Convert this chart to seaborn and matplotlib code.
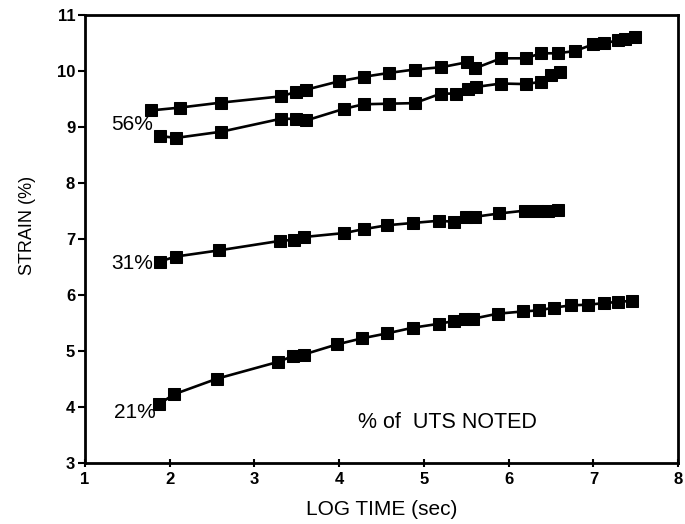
import matplotlib
matplotlib.use("Agg")
import matplotlib.pyplot as plt
import seaborn as sns
import pandas as pd

sns.set_theme(style="ticks")
plt.rcParams["font.family"] = ["Liberation Sans", "DejaVu Sans"]

# Creep strain vs log time at several stress levels (% of UTS)
t_56a = [1.78, 2.12, 2.61, 3.31, 3.49, 3.61, 4.00, 4.29, 4.59, 4.89, 5.20, 5.51, 5.60,
         5.91, 6.20, 6.38, 6.58, 6.78, 7.00, 7.13, 7.29, 7.37, 7.49]
s_56a = [9.30, 9.35, 9.44, 9.55, 9.63, 9.67, 9.82, 9.90, 9.97, 10.03, 10.07, 10.16, 10.05,
         10.23, 10.23, 10.32, 10.32, 10.36, 10.48, 10.50, 10.55, 10.58, 10.61]

t_56b = [1.89, 2.08, 2.61, 3.31, 3.49, 3.61, 4.06, 4.29, 4.59, 4.89, 5.20, 5.38, 5.52,
         5.62, 5.91, 6.20, 6.38, 6.50, 6.60]
s_56b = [8.84, 8.81, 8.92, 9.15, 9.15, 9.12, 9.33, 9.41, 9.42, 9.43, 9.60, 9.60, 9.69,
         9.72, 9.78, 9.77, 9.81, 9.93, 9.99]

t_31 = [1.88, 2.07, 2.58, 3.30, 3.47, 3.59, 4.06, 4.29, 4.57, 4.87, 5.18, 5.36, 5.50,
        5.60, 5.89, 6.19, 6.34, 6.46, 6.58]
s_31 = [6.60, 6.69, 6.80, 6.97, 6.99, 7.04, 7.11, 7.18, 7.25, 7.29, 7.33, 7.31, 7.39,
        7.40, 7.46, 7.51, 7.51, 7.51, 7.52]

t_21 = [1.87, 2.05, 2.56, 3.28, 3.45, 3.58, 3.97, 4.27, 4.57, 4.87, 5.18, 5.36, 5.48,
        5.58, 5.87, 6.17, 6.36, 6.54, 6.74, 6.94, 7.13, 7.29, 7.45]
s_21 = [4.05, 4.23, 4.51, 4.81, 4.91, 4.94, 5.12, 5.23, 5.32, 5.42, 5.49, 5.54, 5.57,
        5.58, 5.67, 5.71, 5.73, 5.78, 5.82, 5.83, 5.86, 5.88, 5.90]

series = [(t_56a, s_56a), (t_56b, s_56b), (t_31, s_31), (t_21, s_21)]

fig = plt.figure(figsize=(6.85, 5.24), dpi=100)
ax = fig.add_axes([0.124, 0.116, 0.866, 0.855])

for t, s in series:
    df = pd.DataFrame({"t": t, "s": s})
    sns.lineplot(data=df, x="t", y="s", sort=False, color="black", linewidth=1.9,
                 marker="s", markersize=8, markeredgecolor="black", ax=ax)

ax.set_xlim(1, 8)
ax.set_ylim(3, 11)
ax.set_xticks(range(1, 9))
ax.set_yticks(range(3, 12))

for side in ["left", "right", "top", "bottom"]:
    ax.spines[side].set_visible(True)
    ax.spines[side].set_color("black")
    ax.spines[side].set_linewidth(2)

ax.tick_params(axis="x", direction="inout", length=6, width=1.5, labelsize=12, pad=3, colors="black")
ax.tick_params(axis="y", direction="out", length=5, width=1.5, labelsize=12, pad=2, colors="black")
for lab in ax.get_xticklabels() + ax.get_yticklabels():
    lab.set_fontweight("bold")

ax.set_xlabel("LOG TIME (sec)", fontsize=15, color="black")
ax.set_ylabel("STRAIN (%)", fontsize=13, color="black")
ax.xaxis.set_label_coords(0.5, -0.083)
ax.yaxis.set_label_coords(-0.083, 0.531)

ax.text(1.80, 9.05, "56%", fontsize=15, ha="right", va="center", color="black")
ax.text(1.80, 6.57, "31%", fontsize=15, ha="right", va="center", color="black")
ax.text(1.84, 3.91, "21%", fontsize=15, ha="right", va="center", color="black")
ax.text(4.22, 3.73, "% of  UTS NOTED", fontsize=15.5, ha="left", va="center", color="black")

fig.savefig("out.png", dpi=100)
